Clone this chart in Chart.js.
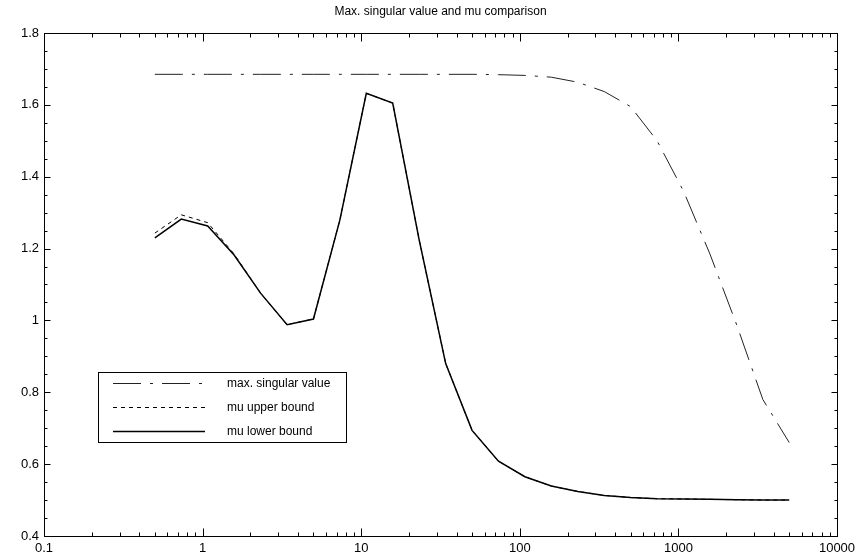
<!DOCTYPE html>
<html><head><meta charset="utf-8">
<script src="https://cdn.jsdelivr.net/npm/chart.js@4.4.1/dist/chart.umd.min.js"></script>
<style>html,body{margin:0;padding:0;background:#fff;}</style>
</head><body>
<canvas id="c" width="866" height="558"></canvas>
<script>
const chartTitle = 'Max. singular value and mu comparison';
const frequencies = [0.5, 0.734, 1.077, 1.58, 2.32, 3.41, 5, 7.34, 10.77, 15.8, 23.2, 34.1, 50, 73.4, 107.7, 158, 232, 341, 500, 734, 1077, 1580, 2321, 3407, 5000];
const maxSingularValue = [1.685, 1.685, 1.685, 1.685, 1.685, 1.685, 1.685, 1.685, 1.685, 1.685, 1.685, 1.685, 1.685, 1.684, 1.682, 1.677, 1.663, 1.637, 1.595, 1.50, 1.36, 1.185, 0.99, 0.78, 0.66];
const muUpperBound = [1.243, 1.294, 1.272, 1.185, 1.076, 0.988, 1.004, 1.28, 1.632, 1.605, 1.224, 0.88, 0.694, 0.608, 0.565, 0.539, 0.524, 0.513, 0.507, 0.504, 0.503, 0.502, 0.501, 0.5, 0.5];
const muLowerBound = [1.23, 1.282, 1.263, 1.182, 1.076, 0.988, 1.004, 1.28, 1.632, 1.605, 1.224, 0.88, 0.694, 0.608, 0.565, 0.539, 0.524, 0.513, 0.507, 0.504, 0.503, 0.502, 0.501, 0.5, 0.5];
const seriesNames = ['max. singular value', 'mu upper bound', 'mu lower bound'];
const xTickLabels = ['0.1', '1', '10', '100', '1000', '10000'];
const yTickLabels = ['0.4', '0.6', '0.8', '1', '1.2', '1.4', '1.6', '1.8'];

const FONT = '"Liberation Sans", Arial, Helvetica, sans-serif';
const toPoints = (ys) => frequencies.map((f, i) => ({x: f, y: ys[i]}));

const framePlugin = {
  id: 'frame',
  afterDraw(chart) {
    const {ctx, chartArea: a, scales: {x, y}} = chart;
    const L = Math.round(a.left) + 0.5, R = Math.round(a.right) + 0.5;
    const T = Math.round(a.top) + 0.5, B = Math.round(a.bottom) + 0.5;
    ctx.save();
    ctx.strokeStyle = '#000';
    ctx.lineWidth = 1;
    ctx.setLineDash([]);
    ctx.strokeRect(L, T, R - L, B - T);
    ctx.beginPath();
    x.ticks.forEach(t => {
      const v = t.value;
      const e = Math.floor(Math.log10(v) + 1e-9);
      const m = v / Math.pow(10, e);
      if (Math.abs(m - Math.round(m)) > 1e-6) return;
      const major = Math.abs(m - 1) < 1e-6;
      const len = major ? 8 : 4;
      const px = Math.round(x.getPixelForValue(v)) + 0.5;
      ctx.moveTo(px, B); ctx.lineTo(px, B - len);
      ctx.moveTo(px, T); ctx.lineTo(px, T + len);
    });
    for (let i = 0; i <= 28; i++) {
      const v = 0.4 + i * 0.05;
      const major = i % 4 === 0;
      const len = major ? 6 : 3;
      const py = Math.round(y.getPixelForValue(v)) + 0.5;
      ctx.moveTo(L, py); ctx.lineTo(L + len, py);
      ctx.moveTo(R, py); ctx.lineTo(R - len, py);
    }
    ctx.stroke();

    ctx.fillStyle = '#000';
    ctx.font = '12px ' + FONT;
    ctx.textAlign = 'center';
    ctx.textBaseline = 'middle';
    ctx.fillText(chartTitle, (a.left + a.right) / 2, 12);

    const bx = 98.5, by = 372.5, bw = 248, bh = 70;
    ctx.strokeRect(bx, by, bw, bh);
    const rows = [383.5, 407.5, 431.5];
    ctx.textAlign = 'left';
    [0, 1, 2].forEach((di, r) => {
      const ds = chart.data.datasets[di];
      ctx.save();
      ctx.strokeStyle = ds.borderColor;
      ctx.lineWidth = ds.borderWidth;
      ctx.setLineDash(ds.borderDash || []);
      ctx.beginPath();
      ctx.moveTo(113, rows[r]);
      ctx.lineTo(205, rows[r]);
      ctx.stroke();
      ctx.restore();
      ctx.fillStyle = '#000';
      ctx.font = '12px ' + FONT;
      ctx.textBaseline = 'middle';
      ctx.fillText(ds.label, 227, rows[r] + 0.5);
    });
    ctx.restore();
  }
};

new Chart(document.getElementById('c'), {
  type: 'line',
  data: {
    datasets: [
      {label: seriesNames[0], data: toPoints(maxSingularValue), borderColor: '#222', borderWidth: 1, borderDash: [28, 9, 3, 9], pointRadius: 0, fill: false, tension: 0},
      {label: seriesNames[1], data: toPoints(muUpperBound), borderColor: '#000', borderWidth: 1, borderDash: [4, 4], pointRadius: 0, fill: false, tension: 0},
      {label: seriesNames[2], data: toPoints(muLowerBound), borderColor: '#000', borderWidth: 1.5, borderDash: [], pointRadius: 0, fill: false, tension: 0}
    ]
  },
  options: {
    responsive: false,
    animation: false,
    devicePixelRatio: 1,
    events: [],
    layout: {padding: {top: 33, right: 29, left: 0, bottom: 0}},
    plugins: {legend: {display: false}, title: {display: false}, tooltip: {enabled: false}},
    scales: {
      x: {
        type: 'logarithmic', min: 0.1, max: 10000,
        grid: {display: false, drawTicks: false},
        border: {display: false},
        ticks: {
          autoSkip: false, maxRotation: 0, minRotation: 0, padding: 5, color: '#000',
          font: {size: 13, family: FONT},
          callback: (v) => {
            const l = Math.log10(v);
            return Math.abs(l - Math.round(l)) < 1e-9 ? xTickLabels[Math.round(l) + 1] : '';
          }
        },
        afterFit(s) { s.height = 22; }
      },
      y: {
        type: 'linear', min: 0.4, max: 1.8,
        grid: {display: false, drawTicks: false},
        border: {display: false},
        ticks: {
          stepSize: 0.2, padding: 5, color: '#000',
          font: {size: 13, family: FONT},
          callback: (v) => yTickLabels[Math.round((v - 0.4) / 0.2)]
        },
        afterFit(s) { s.width = 44; }
      }
    }
  },
  plugins: [framePlugin]
});
</script>
</body></html>
